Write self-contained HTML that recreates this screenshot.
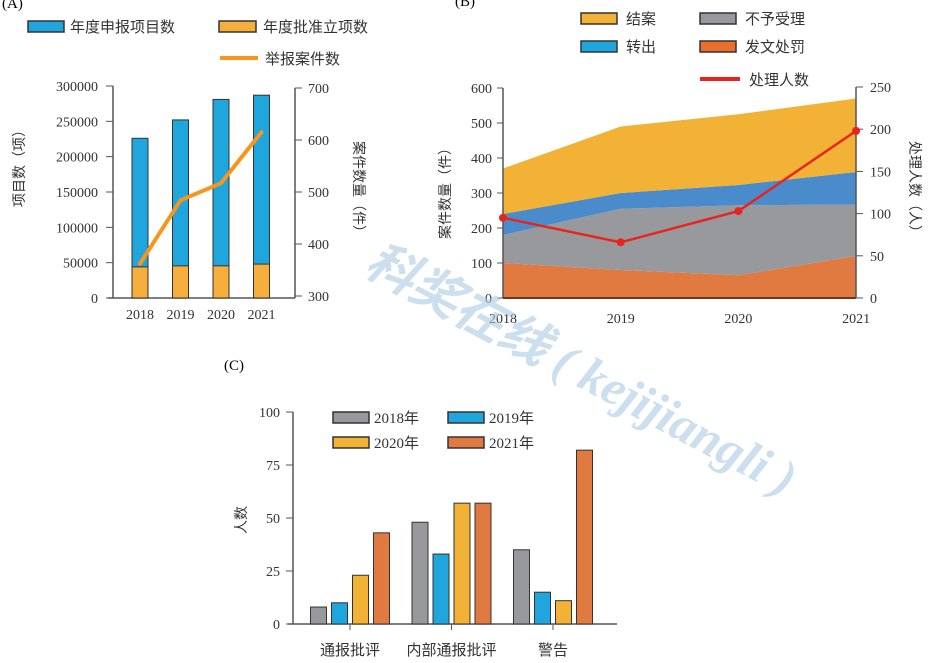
<!DOCTYPE html>
<html><head><meta charset="utf-8"><style>
body{margin:0;background:#fff;}
svg{display:block;font-family:"Liberation Serif","Noto Serif CJK SC",serif;}
.cj{font-family:"Liberation Serif","Noto Sans CJK SC",sans-serif;}
</style></head><body>
<svg id="s" width="936" height="663" viewBox="0 0 936 663"></svg>
<script>
// Chart A data
const aYears=["2018","2019","2020","2021"];
const aApplied=[226000,252000,281000,287000];
const aApproved=[44000,45500,45500,48000];
const aCases=[362,484,517,615];
const aLeftTicks=[0,50000,100000,150000,200000,250000,300000];
const aRightTicks=[300,400,500,600,700];
// Chart B data
const bYears=["2018","2019","2020","2021"];
const bPunish=[100,80,65,120];
const bReject=[80,175,200,147];
const bTransfer=[60,45,58,93];
const bClosed=[130,190,202,210];
const bPeople=[95,66,103,198];
const bLeftTicks=[0,100,200,300,400,500,600];
const bRightTicks=[0,50,100,150,200,250];
// Chart C data
const cCats=["通报批评","内部通报批评","警告"];
const cSeries=["2018年","2019年","2020年","2021年"];
const c2018=[8,48,35];
const c2019=[10,33,15];
const c2020=[23,57,11];
const c2021=[43,57,82];
const cTicks=[0,25,50,75,100];

const S=document.getElementById('s');
const NS='http://www.w3.org/2000/svg';
function mk(tag,attrs,name,parent,text){
  const e=document.createElementNS(NS,tag);
  for(const k in attrs)e.setAttribute(k,attrs[k]);
  
  
  if(text!==undefined)e.textContent=text;
  (parent||S).appendChild(e);return e;
}
const AX='#555';

// ---------- Chart A ----------
const aY=v=>298-v/300000*212;
const aY2=v=>296-(v-300)/400*208;
const aX=i=>140+i*40.5;
mk('text',{x:2,y:8,'font-size':15},'panel-a-label',S,'(A)');
mk('line',{x1:113,y1:86,x2:113,y2:298,stroke:AX,'stroke-width':1.5},'a-left-axis');
mk('line',{x1:108,y1:298,x2:295,y2:298,stroke:AX,'stroke-width':1.5},'a-x-axis');
mk('line',{x1:295,y1:88,x2:295,y2:298,stroke:AX,'stroke-width':1.5},'a-right-axis');
aLeftTicks.forEach(t=>{
  mk('line',{x1:106,y1:aY(t),x2:113,y2:aY(t),stroke:AX},'a-left-tick');
  mk('text',{x:98,y:aY(t)+5,'text-anchor':'end','font-size':14,fill:'#333'},'a-left-tick-label',S,t);
});
aRightTicks.forEach(t=>{
  mk('line',{x1:295,y1:aY2(t),x2:302,y2:aY2(t),stroke:AX},'a-right-tick');
  mk('text',{x:308,y:aY2(t)+5,'font-size':14,fill:'#333'},'a-right-tick-label',S,t);
});
aYears.forEach((y,i)=>{
  const x=aX(i);
  mk('rect',{x:x-8,y:aY(aApplied[i]),width:16,height:298-aY(aApplied[i]),fill:'#1ea6dd',stroke:'#333','stroke-width':1},'a-bar-applied-'+y);
  mk('rect',{x:x-8,y:aY(aApproved[i]),width:16,height:298-aY(aApproved[i]),fill:'#f6ae3d',stroke:'#333','stroke-width':1},'a-bar-approved-'+y);
  mk('text',{x:x,y:319,'text-anchor':'middle','font-size':14,fill:'#333'},'a-x-label',S,y);
});
mk('polyline',{points:aCases.map((v,i)=>aX(i)+','+aY2(v)).join(' '),fill:'none',stroke:'#f7951f','stroke-width':4,'stroke-linecap':'round'},'a-cases-line');
mk('text',{x:0,y:0,transform:'translate(24,165) rotate(-90)','text-anchor':'middle','font-size':14,class:'cj',fill:'#333'},'a-left-axis-title',S,'项目数（项）');
mk('text',{x:0,y:0,transform:'translate(354,190) rotate(90)','text-anchor':'middle','font-size':14,class:'cj',fill:'#333'},'a-right-axis-title',S,'案件数量（件）');
mk('rect',{x:28,y:21,width:36,height:11,fill:'#1ea6dd',stroke:'#333','stroke-width':1.5},'a-legend-applied-swatch');
mk('text',{x:70,y:32,'font-size':15,class:'cj',fill:'#333'},'a-legend-applied',S,'年度申报项目数');
mk('rect',{x:219,y:21,width:37,height:11,fill:'#f6ae3d',stroke:'#333','stroke-width':1.5},'a-legend-approved-swatch');
mk('text',{x:263,y:32,'font-size':15,class:'cj',fill:'#333'},'a-legend-approved',S,'年度批准立项数');
mk('line',{x1:220,y1:58,x2:258,y2:58,stroke:'#f7951f','stroke-width':4},'a-legend-cases-swatch');
mk('text',{x:265,y:64,'font-size':15,class:'cj',fill:'#333'},'a-legend-cases',S,'举报案件数');

// ---------- Chart B ----------
const bY=v=>298-v/600*210;
const bY2=v=>298-v/250*211;
const bX=i=>503+i*117.7;
mk('text',{x:455,y:6,'font-size':15},'panel-b-label',S,'(B)');
const layers=[[bPunish,'#e07a40','punish'],[bReject,'#98999c','reject'],[bTransfer,'#4a8ccb','transfer'],[bClosed,'#f2b235','closed']];
let base=[0,0,0,0];
layers.forEach(([arr,col,nm])=>{
  const top=base.map((b,i)=>b+arr[i]);
  const pts=top.map((v,i)=>bX(i)+','+bY(v)).concat(base.map((v,i)=>bX(i)+','+bY(v)).reverse());
  mk('polygon',{points:pts.join(' '),fill:col},'b-area-'+nm);
  base=top;
});
mk('line',{x1:503,y1:88,x2:503,y2:298,stroke:AX,'stroke-width':1.5},'b-left-axis');
mk('line',{x1:503,y1:298,x2:856,y2:298,stroke:'#6b3a1e','stroke-width':2},'b-x-axis');
mk('line',{x1:856,y1:87,x2:856,y2:298,stroke:AX,'stroke-width':1.5},'b-right-axis');
bLeftTicks.forEach(t=>{
  mk('line',{x1:497,y1:bY(t),x2:503,y2:bY(t),stroke:AX},'b-left-tick');
  mk('text',{x:492,y:bY(t)+5,'text-anchor':'end','font-size':14,fill:'#333'},'b-left-tick-label',S,t);
});
bRightTicks.forEach(t=>{
  mk('line',{x1:856,y1:bY2(t),x2:863,y2:bY2(t),stroke:AX},'b-right-tick');
  mk('text',{x:870,y:bY2(t)+5,'font-size':14,fill:'#333'},'b-right-tick-label',S,t);
});
bYears.forEach((y,i)=>mk('text',{x:bX(i),y:323,'text-anchor':'middle','font-size':14,fill:'#333'},'b-x-label',S,y));
mk('polyline',{points:bPeople.map((v,i)=>bX(i)+','+bY2(v)).join(' '),fill:'none',stroke:'#e8241f','stroke-width':2.5},'b-people-line');
bPeople.forEach((v,i)=>mk('circle',{cx:bX(i),cy:bY2(v),r:4,fill:'#e8241f'},'b-people-point'));
mk('text',{x:0,y:0,transform:'translate(450,190) rotate(-90)','text-anchor':'middle','font-size':14,class:'cj',fill:'#333'},'b-left-axis-title',S,'案件数量（件）');
mk('text',{x:0,y:0,transform:'translate(910,190) rotate(90)','text-anchor':'middle','font-size':14,class:'cj',fill:'#333'},'b-right-axis-title',S,'处理人数（人）');
[['#f2b235','结案',581,13],['#98999c','不予受理',700,13],['#1ea6dd','转出',581,41],['#e8702a','发文处罚',700,41]].forEach(([c,t,x,y])=>{
  mk('rect',{x:x,y:y,width:36,height:11,fill:c,stroke:'#333','stroke-width':1.5},'b-legend-swatch');
  mk('text',{x:x+45,y:y+11,'font-size':15,class:'cj',fill:'#333'},'b-legend-label',S,t);
});
mk('line',{x1:700,y1:79,x2:740,y2:79,stroke:'#e8241f','stroke-width':4},'b-legend-people-swatch');
mk('text',{x:749,y:85,'font-size':15,class:'cj',fill:'#333'},'b-legend-people',S,'处理人数');

// ---------- Chart C ----------
const cY=v=>624-v/100*212;
const cX=i=>350+i*101.5;
mk('text',{x:224,y:370,'font-size':15},'panel-c-label',S,'(C)');
mk('line',{x1:293,y1:412,x2:293,y2:624,stroke:AX,'stroke-width':1.5},'c-y-axis');
mk('line',{x1:288,y1:624,x2:617,y2:624,stroke:AX,'stroke-width':1.5},'c-x-axis');
cTicks.forEach(t=>{
  mk('line',{x1:286,y1:cY(t),x2:293,y2:cY(t),stroke:AX},'c-tick');
  mk('text',{x:280,y:cY(t)+5,'text-anchor':'end','font-size':14,fill:'#333'},'c-tick-label',S,t);
});
const cData=[c2018,c2019,c2020,c2021];
const cCols=['#98999c','#1ea6dd','#f2b235','#e07a40'];
cCats.forEach((c,g)=>{
  cData.forEach((arr,k)=>{
    const x=cX(g)+(k-1.5)*21;
    mk('rect',{x:x-8,y:cY(arr[g]),width:16,height:624-cY(arr[g]),fill:cCols[k],stroke:'#333','stroke-width':1},'c-bar-'+cSeries[k]+'-'+c);
  });
  mk('line',{x1:cX(g),y1:624,x2:cX(g),y2:630,stroke:AX},'c-x-tick');
  mk('text',{x:cX(g),y:655,'text-anchor':'middle','font-size':15,class:'cj',fill:'#333'},'c-x-label',S,c);
});
cSeries.forEach((s,k)=>{
  const x=333+(k%2)*115, y=412+Math.floor(k/2)*25;
  mk('rect',{x:x,y:y,width:36,height:11,fill:cCols[k],stroke:'#333','stroke-width':1.5},'c-legend-swatch');
  mk('text',{x:x+41,y:y+11,'font-size':15,class:'cj',fill:'#333'},'c-legend-label',S,s);
});
mk('text',{x:0,y:0,transform:'translate(246,520) rotate(-90)','text-anchor':'middle','font-size':14,class:'cj',fill:'#333'},'c-y-axis-title',S,'人数');

// watermark
mk('text',{x:0,y:0,transform:'translate(362,272) rotate(28)','font-size':50,'font-style':'italic','font-weight':'bold',fill:'#a9c9e3','fill-opacity':0.6,class:'cj'},'watermark',S,'科奖在线 ( kejijiangli )');
</script>
</body></html>
